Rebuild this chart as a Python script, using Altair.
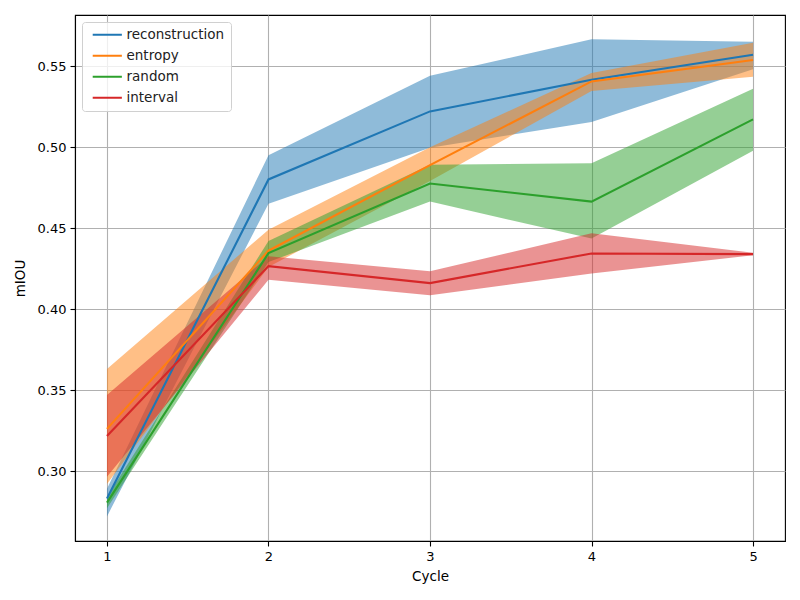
import altair as alt
import pandas as pd

cycles = [1, 2, 3, 4, 5]
series_names = ["reconstruction", "entropy", "random", "interval"]
colors = ["#1f77b4", "#ff7f0e", "#2ca02c", "#d62728"]

recon_mean = [0.283, 0.480, 0.522, 0.5415, 0.557]
recon_low = [0.272, 0.465, 0.4995, 0.5155, 0.548]
recon_high = [0.289, 0.495, 0.544, 0.5665, 0.565]

entropy_mean = [0.326, 0.436, 0.4888, 0.5405, 0.5537]
entropy_low = [0.292, 0.426, 0.479, 0.5346, 0.5434]
entropy_high = [0.363, 0.449, 0.4998, 0.5457, 0.5644]

random_mean = [0.2805, 0.4345, 0.4775, 0.4663, 0.5171]
random_low = [0.277, 0.429, 0.4663, 0.4435, 0.4977]
random_high = [0.284, 0.442, 0.489, 0.490, 0.536]

interval_mean = [0.3216, 0.4265, 0.416, 0.4343, 0.4339]
interval_low = [0.2965, 0.418, 0.4085, 0.422, 0.4332]
interval_high = [0.347, 0.4325, 0.4233, 0.4467, 0.4348]

means = [recon_mean, entropy_mean, random_mean, interval_mean]
lows = [recon_low, entropy_low, random_low, interval_low]
highs = [recon_high, entropy_high, random_high, interval_high]

rows = []
for i, name in enumerate(series_names):
    for j, c in enumerate(cycles):
        rows.append({"Cycle": c, "method": name, "order": i,
                     "mean": means[i][j], "low": lows[i][j], "high": highs[i][j]})
df = pd.DataFrame(rows)

font = "DejaVu Sans"
xscale = alt.Scale(domain=[0.802, 5.198], nice=False, zero=False)
yscale = alt.Scale(domain=[0.2568, 0.5815], nice=False, zero=False)
cscale = alt.Scale(domain=series_names, range=colors)

xaxis = alt.Axis(values=cycles, format="d", title="Cycle", grid=True)
yaxis = alt.Axis(values=[0.30, 0.35, 0.40, 0.45, 0.50, 0.55], format=".2f", title="mIOU", grid=True)

base = alt.Chart(df)

bands = base.mark_area(fillOpacity=0.5, interpolate="linear").encode(
    x=alt.X("Cycle:Q", scale=xscale, axis=xaxis),
    y=alt.Y("low:Q", scale=yscale, axis=yaxis),
    y2="high:Q",
    fill=alt.Fill("method:N", scale=cscale, sort=series_names, legend=None),
    order="order:Q",
)

lines = base.mark_line(strokeWidth=2.1).encode(
    x=alt.X("Cycle:Q", scale=xscale),
    y=alt.Y("mean:Q", scale=yscale),
    stroke=alt.Stroke("method:N", scale=cscale, sort=series_names,
                      legend=alt.Legend(title=None, symbolOpacity=1)),
    detail="method:N",
)

chart = alt.layer(bands, lines).resolve_scale(fill="independent", stroke="independent").properties(
    width=710, height=526,
    autosize=alt.AutoSizeParams(type="none"),
    padding={"left": 67, "top": 7, "right": 5, "bottom": 51},
).configure_view(
    stroke="black", strokeWidth=1.1
).configure_axis(
    labelFont=font, titleFont=font, labelFontSize=13, titleFontSize=13.5,
    labelColor="black", titleColor="black", titleFontWeight="normal",
    gridColor="#b0b0b0", gridWidth=1.1, gridOpacity=1,
    tickColor="black", tickSize=5, tickWidth=1.1,
    domainColor="black", domainWidth=1.1, labelPadding=4, zindex=1,
).configure_axisX(titlePadding=6).configure_axisY(titlePadding=10).configure_legend(
    orient="none", legendX=7, legendY=7,
    padding=6, strokeColor="#d0d0d0", fillColor="rgba(255,255,255,0.8)",
    cornerRadius=3, labelFont=font, labelFontSize=13.5, labelColor="#222222",
    symbolType="M-0.7,0H9.3", symbolStrokeWidth=2, symbolSize=34,
    labelOffset=25, rowPadding=6,
)

chart.save("out.html", embed_options={"renderer": "svg", "actions": False})
